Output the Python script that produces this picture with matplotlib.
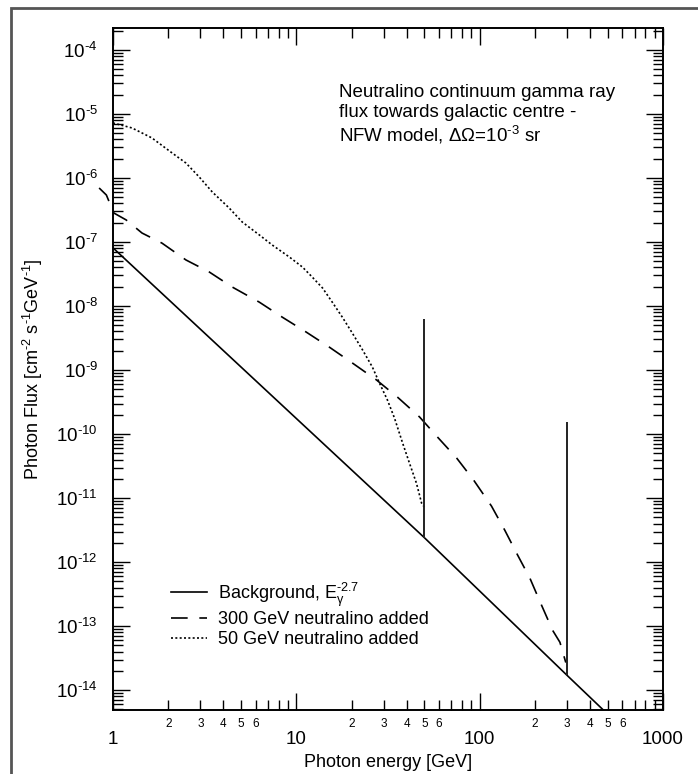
import matplotlib
matplotlib.use('Agg')
import matplotlib.pyplot as plt
import numpy as np
from matplotlib import rcParams
from matplotlib.patches import Rectangle
from matplotlib.ticker import LogLocator, FuncFormatter, NullFormatter

rcParams['font.family'] = ['Liberation Sans', 'DejaVu Sans']
rcParams['mathtext.fontset'] = 'custom'
rcParams['mathtext.rm'] = 'Liberation Sans'
rcParams['mathtext.it'] = 'Liberation Sans:italic'
rcParams['mathtext.default'] = 'regular'
rcParams['axes.unicode_minus'] = False

# Background power law E^-2.7
bg_energy = [1, 50, 300, 500]
bg_flux = [8.1e-8, 2.4e-12, 1.7e-14, 4.2e-15]

# 300 GeV neutralino added (dashed)
e300 = [0.84, 0.92, 1.01, 1.18, 1.44, 1.85, 2.5, 3.35, 4.47, 6.28, 8.38, 11.3,
        15.1, 20.2, 27.4, 35.6, 47.0, 58.9, 74.9, 92.7, 116, 137, 161, 188,
        215, 250, 274, 295]
f300 = [6.98e-7, 5.42e-7, 2.84e-7, 2.21e-7, 1.38e-7, 9.6e-8, 5.24e-8, 3.40e-8,
        1.98e-8, 1.15e-8, 6.7e-9, 3.93e-9, 2.29e-9, 1.29e-9, 6.98e-10,
        3.78e-10, 1.85e-10, 8.97e-11, 4.22e-11, 1.91e-11, 7.5e-12, 3.16e-12,
        1.29e-12, 5.6e-13, 2.29e-13, 8.6e-14, 5.6e-14, 2.7e-14]

# 50 GeV neutralino added (dotted)
e50 = [1.0, 1.27, 1.63, 2.10, 2.50, 2.95, 3.48, 4.30, 5.07, 6.28, 7.39, 9.16,
       10.8, 12.2, 13.9, 15.7, 17.8, 20.2, 23.0, 26.0, 28.4, 31.4, 34.3, 38.0,
       41.4, 45.2, 48.2, 50]
f50 = [7.23e-6, 6.04e-6, 4.22e-6, 2.46e-6, 1.71e-6, 1.04e-6, 6.04e-7, 3.40e-7,
       2.05e-7, 1.29e-7, 8.97e-8, 5.83e-8, 4.06e-8, 2.84e-8, 1.91e-8, 1.15e-8,
       6.73e-9, 3.78e-9, 2.05e-9, 1.11e-9, 6.27e-10, 3.40e-10, 1.78e-10,
       7.23e-11, 3.52e-11, 1.71e-11, 8.36e-12, 7.2e-12]

# gamma-ray lines
line_energy = [50, 300]
line_bottom = [2.4e-12, 1.7e-14]
line_top = [6.3e-9, 1.55e-10]

y_min, y_max = 4.9e-15, 2.2e-4

fig = plt.figure(figsize=(6.98, 7.74), dpi=100)
ax = fig.add_axes([113/698, 1 - 710/774, 550/698, 682/774])

ax.plot(bg_energy, bg_flux, color='black', lw=1.2,
        label='Background, E$_{γ}^{\\text{-}2.7}$')
ax.plot(e300, f300, color='black', lw=1.2, linestyle=(0, (10, 7)),
        label='300 GeV neutralino added', clip_on=False)
ax.plot(e50, f50, color='black', lw=1.2, linestyle=(0, (1.2, 1.4)),
        label='50 GeV neutralino added')
ax.vlines(line_energy, line_bottom, line_top, color='#222222', lw=1.4)

ax.set_xscale('log')
ax.set_yscale('log')
ax.set_xlim(1, 1000)
ax.set_ylim(y_min, y_max)

# ticks: all inward, on every side
ax.tick_params(which='both', direction='in', top=True, right=True,
               color='black', width=1)
ax.tick_params(which='major', length=12)
ax.tick_params(which='minor', length=7)
ax.yaxis.set_major_locator(LogLocator(base=10, numticks=30))
ax.yaxis.set_minor_locator(LogLocator(base=10, subs=np.arange(2, 10),
                                      numticks=30))
ax.yaxis.set_minor_formatter(NullFormatter())

def y_lab(v, p):
  # no label for decades outside the plotted range
  if v < y_min or v > y_max:
    return ''
  return r'$10^{\text{-}%d}$' % round(-np.log10(v))

ax.yaxis.set_major_formatter(FuncFormatter(y_lab))
ax.tick_params(axis='y', which='major', labelsize=13.5, pad=11)

ax.xaxis.set_major_formatter(FuncFormatter(
  lambda v, p: '%d' % round(v) if 1 <= v <= 1000 else ''))

def minor_lab(v, p):
  # only 2..6 inside the plotted range get a small label
  if v < 1 or v > 1000:
    return ''
  d = v / 10 ** np.floor(np.log10(v) + 1e-9)
  d = int(round(d))
  return str(d) if d in (2, 3, 4, 5, 6) else ''

ax.xaxis.set_minor_formatter(FuncFormatter(minor_lab))
ax.tick_params(axis='x', which='major', labelsize=13.5, pad=15)
ax.tick_params(axis='x', which='minor', labelsize=8.5, pad=6)

for s in ax.spines.values():
  s.set_linewidth(1.4)

ax.set_xlabel('Photon energy [GeV]', fontsize=13)
ax.xaxis.set_label_coords(0.5, -0.064)
ax.set_ylabel('Photon Flux [cm$^{\\text{-}2}$ s$^{\\text{-}1}$GeV$^{\\text{-}1}$]',
              fontsize=13)
ax.yaxis.set_label_coords(-0.124, 0.5)

# annotation
ax.text(0.411, 0.905, 'Neutralino continuum gamma ray', transform=ax.transAxes,
        fontsize=13.5, va='center')
ax.text(0.411, 0.876, 'flux towards galactic centre -', transform=ax.transAxes,
        fontsize=13.5, va='center')
ax.text(0.411, 0.843, 'NFW model, ΔΩ=10$^{\\text{-}3}$ sr',
        transform=ax.transAxes, fontsize=13.5, va='center')

ax.legend(loc='upper left', bbox_to_anchor=(0.105, 0.19), frameon=False,
          fontsize=13, handlelength=2.0, handletextpad=0.6, borderpad=0,
          borderaxespad=0, labelspacing=0.15)

# outer frame around the figure
fig.add_artist(Rectangle((11/698, -0.1), 1.0, 1.1 - 8/774, fill=False,
                         lw=2, ec='#555555', transform=fig.transFigure))

fig.savefig('out.png', dpi=100)
